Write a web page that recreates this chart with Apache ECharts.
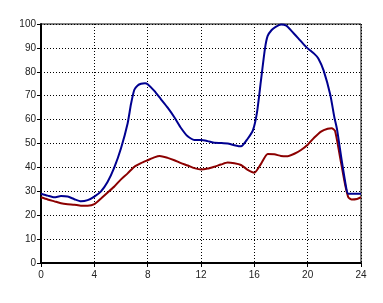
<!DOCTYPE html>
<html>
<head>
<meta charset="utf-8">
<script src="https://cdn.jsdelivr.net/npm/echarts@6/dist/echarts.min.js"></script>
<style>html,body{margin:0;padding:0;background:#fff;}#c{width:383px;height:303px;}</style>
</head>
<body>
<div id="c"></div>
<script>
var blueHours = [0,0.5,1,1.5,2,2.5,3,3.5,4,4.5,5,5.5,6,6.5,6.75,7,7.25,7.5,7.8,8,8.5,9,9.5,10,10.5,11,11.5,12,12.5,13,13.5,14,14.5,15,15.5,15.9,16.2,16.5,16.8,17,17.3,17.6,18,18.4,18.8,19.3,19.7,20,20.5,20.8,21.2,21.7,22,22.2,22.55,22.9,23.05,24];
var blueValues = [29,28.2,27.5,28,27.8,26.7,25.8,26.3,27.8,30,34,40,48,58.5,66.5,72.5,74.3,75,75.2,74.8,72,68.5,65,61,56.5,53,51.5,51.5,51,50.3,50.2,50,49.3,48.8,52,55.6,63,76.5,89.8,95,97.5,98.8,99.8,99.3,97,94,91.5,89.8,87.5,85.6,80.5,70.3,61,56,43,31.2,29,29];
var redHours = [0,0.5,1,1.5,2,2.5,3,3.5,4,4.5,5,5.5,6,6.5,7,7.5,8,8.5,8.9,9.5,10,10.5,11,11.5,12,12.5,13,13.5,14,14.5,15,15.5,16,16.5,17,17.5,18,18.5,19,19.5,20,20.5,21,21.5,21.8,22.05,22.4,22.8,23.05,23.3,23.7,24];
var redValues = [27.5,26.6,25.8,25,24.6,24.4,24,24,24.6,27,29.5,32,35,37.5,40.3,41.8,43,44.2,44.8,44,43,41.8,40.8,39.7,39.1,39.5,40.3,41.2,42,41.7,41,39,37.8,41.5,45.6,45.5,44.8,44.7,45.7,47.3,49.5,52.5,55,56.2,56.4,55.3,45.2,33,27.5,26.6,26.8,27.5];
var xTicks = [0,4,8,12,16,20,24];
var yTicks = [0,10,20,30,40,50,60,70,80,90,100];

function pairs(xs, ys){ return xs.map(function(x,i){ return [x, ys[i]]; }); }

var chart = echarts.init(document.getElementById('c'), null, {renderer:'canvas'});
var font = 'Liberation Sans, Arial, sans-serif';
chart.setOption({
  animation: false,
  backgroundColor: '#ffffff',
  grid: {left: 41, right: 22, top: 24, bottom: 40, show: true, borderColor: '#000', borderWidth: 1, backgroundColor: 'transparent'},
  xAxis: {
    type: 'value', min: xTicks[0], max: xTicks[xTicks.length-1], interval: 4,
    axisLine: {show: true, onZero: false, lineStyle: {color: '#000', width: 2}},
    axisTick: {show: true, length: 4, lineStyle: {color: '#000', width: 1}},
    axisLabel: {color: '#222', fontSize: 10, fontFamily: font, margin: 7},
    splitLine: {show: true, lineStyle: {color: '#000', type: [1,2], width: 1}}
  },
  yAxis: {
    type: 'value', min: yTicks[0], max: yTicks[yTicks.length-1], interval: 10,
    axisLine: {show: true, onZero: false, lineStyle: {color: '#000', width: 2}},
    axisTick: {show: true, length: 4, lineStyle: {color: '#000', width: 1}},
    axisLabel: {color: '#222', fontSize: 10, fontFamily: font, margin: 5},
    splitLine: {show: true, lineStyle: {color: '#000', type: [1,2], width: 1}}
  },
  series: [
    {type: 'line', data: pairs(redHours, redValues), showSymbol: false, smooth: 0.2,
     lineStyle: {color: '#8c0000', width: 2}, z: 3},
    {type: 'line', data: pairs(blueHours, blueValues), showSymbol: false, smooth: 0.2,
     lineStyle: {color: '#000090', width: 2}, z: 4}
  ]
});
</script>
</body>
</html>
